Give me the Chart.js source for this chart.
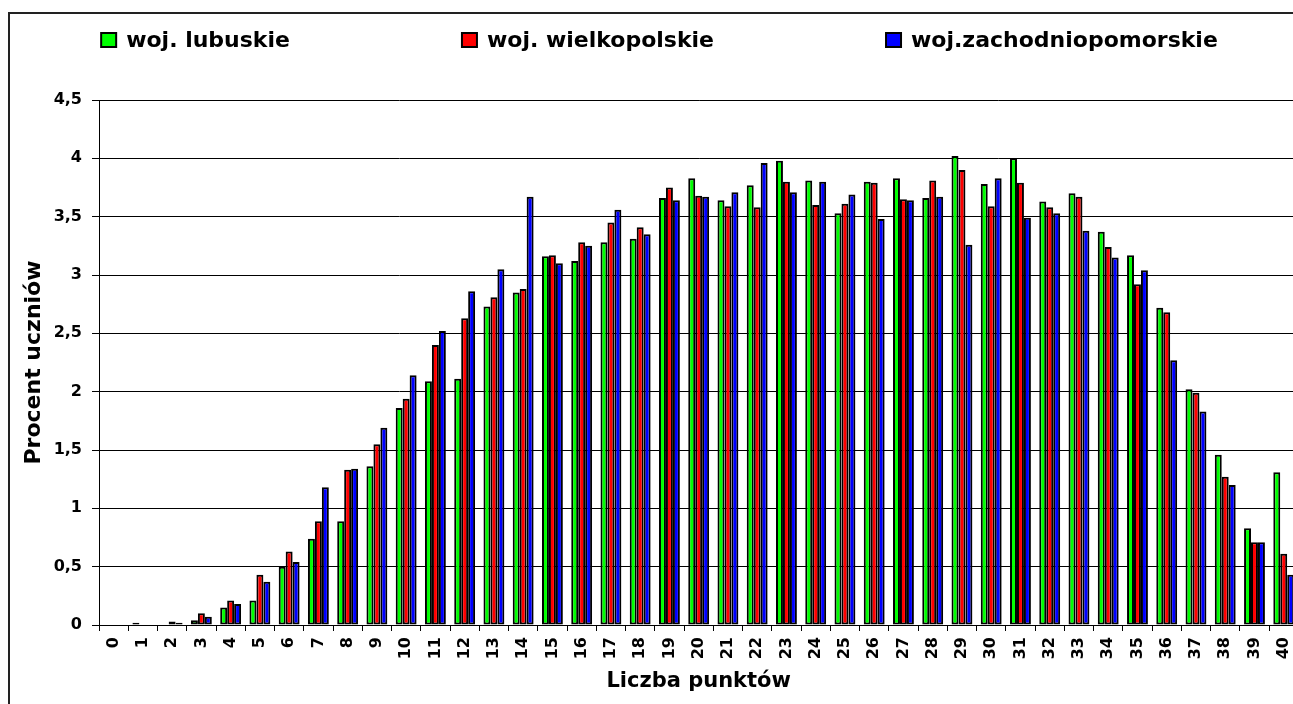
<!DOCTYPE html>
<html lang="pl">
<head>
<meta charset="utf-8">
<title>Liczba punktów</title>
<script src="https://cdn.jsdelivr.net/npm/chart.js@4.4.1/dist/chart.umd.min.js"></script>
<style>
    html, body { margin: 0; padding: 0; background: #fff; overflow: hidden; }
    #frame {
        position: absolute;
        left: 8px;
        top: 12px;
        border: 2px solid #222;
        width: 1299px;
        height: 700px;
    }
    canvas { display: block; }
</style>
</head>
<body>
<div id="frame"><canvas id="chart" width="1299" height="700"></canvas></div>
<script>
// Liczba punktów (0..40)
const points = ['0','1','2','3','4','5','6','7','8','9','10','11','12','13','14','15','16','17','18','19','20',
    '21','22','23','24','25','26','27','28','29','30','31','32','33','34','35','36','37','38','39','40'];

// Procent uczniów
const lubuskie = [0, 0.02, 0, 0.04, 0.15, 0.21, 0.50, 0.74, 0.89, 1.36, 1.86, 2.09, 2.11, 2.73, 2.85, 3.16, 3.12, 3.28, 3.31, 3.66,
    3.83, 3.64, 3.77, 3.98, 3.81, 3.53, 3.80, 3.83, 3.66, 4.02, 3.78, 4.00, 3.63, 3.70, 3.37, 3.17, 2.72, 2.02, 1.46, 0.83, 1.31];
const wielkopolskie = [0, 0, 0.03, 0.10, 0.21, 0.43, 0.63, 0.89, 1.33, 1.55, 1.94, 2.40, 2.63, 2.81, 2.88, 3.17, 3.28, 3.45, 3.41, 3.75,
    3.68, 3.59, 3.58, 3.80, 3.60, 3.61, 3.79, 3.65, 3.81, 3.90, 3.59, 3.79, 3.58, 3.67, 3.24, 2.92, 2.68, 1.99, 1.27, 0.71, 0.61];
const zachodniopomorskie = [0, 0, 0.02, 0.07, 0.18, 0.37, 0.54, 1.18, 1.34, 1.69, 2.14, 2.52, 2.86, 3.05, 3.67, 3.10, 3.25, 3.56, 3.35, 3.64,
    3.67, 3.71, 3.96, 3.71, 3.80, 3.69, 3.48, 3.64, 3.67, 3.26, 3.83, 3.49, 3.53, 3.38, 3.15, 3.04, 2.27, 1.83, 1.20, 0.71, 0.43];

const seriesNames = ['woj. lubuskie', 'woj. wielkopolskie', 'woj.zachodniopomorskie'];
const seriesColors = ['#00ff00', '#ff0000', '#0000ff'];
const yTicks = [0, 0.5, 1, 1.5, 2, 2.5, 3, 3.5, 4, 4.5];

const FONT = '"DejaVu Sans", "Liberation Sans", sans-serif';

// legend drawn at the top, wide gaps between entries like the original
const topLegend = {
    id: 'topLegend',
    afterDraw(chart) {
        const ctx = chart.ctx;
        const gap = 172;
        ctx.save();
        ctx.font = 'bold 22px ' + FONT;
        const items = chart.data.datasets.map(ds => ({
            text: ds.label,
            color: ds.backgroundColor,
            w: 15 + 10 + ctx.measureText(ds.label).width
        }));
        const total = items.reduce((s, it) => s + it.w, 0) + gap * (items.length - 1);
        let x = chart.width / 2 - total / 2;
        const y = 26;
        items.forEach(it => {
            ctx.fillStyle = it.color;
            ctx.fillRect(x, y - 7, 15, 14);
            ctx.strokeStyle = '#000';
            ctx.lineWidth = 2;
            ctx.strokeRect(x, y - 7, 15, 14);
            ctx.fillStyle = '#000';
            ctx.textAlign = 'left';
            ctx.textBaseline = 'middle';
            ctx.fillText(it.text, x + 25, y + 1);
            x += it.w + gap;
        });
        ctx.restore();
    }
};

const values = [lubuskie, wielkopolskie, zachodniopomorskie];

new Chart(document.getElementById('chart'), {
    type: 'bar',
    data: {
        labels: points,
        datasets: values.map((data, i) => ({
            label: seriesNames[i],
            data,
            backgroundColor: seriesColors[i],
            borderColor: '#000',
            borderWidth: 2,
            borderSkipped: false,
            categoryPercentage: 0.714,
            barPercentage: 1.0
        }))
    },
    options: {
        responsive: false,
        animation: false,
        layout: { padding: { top: 86, right: 5, left: 0, bottom: 0 } },
        plugins: {
            legend: { display: false },
            tooltip: { enabled: false }
        },
        scales: {
            x: {
                afterFit: s => { s.height = 89; },
                grid: {
                    display: true,
                    offset: true,
                    drawOnChartArea: false,
                    drawTicks: true,
                    tickLength: 6,
                    color: '#000'
                },
                border: { display: true, color: '#000', width: 1 },
                ticks: {
                    autoSkip: false,
                    minRotation: 90,
                    maxRotation: 90,
                    padding: 6,
                    color: '#000',
                    font: { family: FONT, size: 16, weight: 'bold' }
                },
                title: {
                    display: true,
                    text: 'Liczba punktów',
                    color: '#000',
                    padding: { top: 0, bottom: 20 },
                    font: { family: FONT, size: 21, weight: 'bold' }
                }
            },
            y: {
                min: 0,
                max: 4.5,
                afterFit: s => { s.width = 89; },
                afterBuildTicks: s => { s.ticks = yTicks.map(v => ({ value: v })); },
                grid: {
                    color: '#000',
                    lineWidth: 1,
                    drawTicks: true,
                    tickLength: 7
                },
                border: { display: true, color: '#000', width: 1 },
                ticks: {
                    padding: 10,
                    color: '#000',
                    font: { family: FONT, size: 16, weight: 'bold' },
                    callback: v => String(v).replace('.', ',')
                },
                title: {
                    display: true,
                    text: 'Procent uczniów',
                    color: '#000',
                    padding: { top: 11, bottom: 0 },
                    font: { family: FONT, size: 22, weight: 'bold' }
                }
            }
        }
    },
    plugins: [topLegend]
});
</script>
</body>
</html>
